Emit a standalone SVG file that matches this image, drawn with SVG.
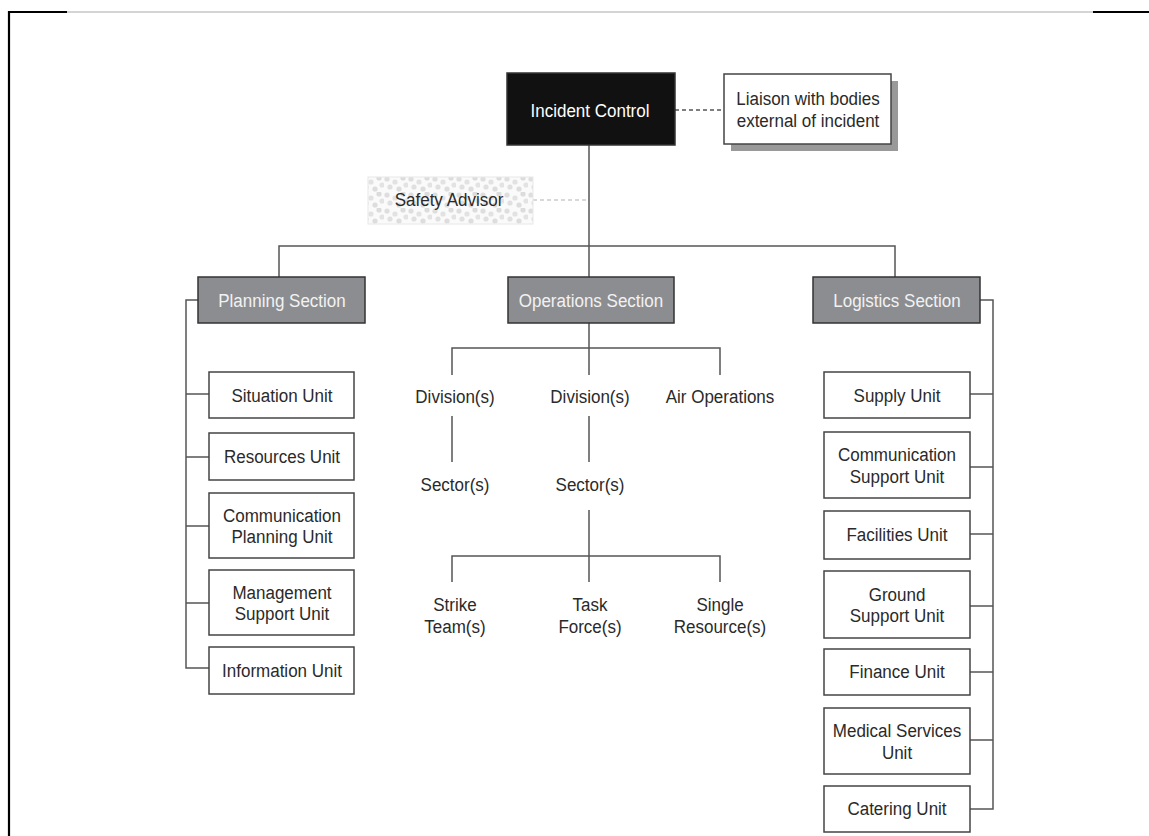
<svg xmlns="http://www.w3.org/2000/svg" width="1149" height="836" viewBox="0 0 1149 836">
<style>
  text { font-family: "Liberation Sans", Arial, sans-serif; font-size: 19px; fill: #2a2a2a; text-anchor: middle; }
  .unit { fill: #fff; stroke: #444; stroke-width: 1.5; }
  .sec { fill: #8c8d90; stroke: #333; stroke-width: 1.5; }
  .sect { fill: #f2f2f2; }
  .conn { fill: none; stroke: #555; stroke-width: 1.5; }
</style>
<defs>
  <pattern id="dots" x="0" y="0" width="24" height="16" patternUnits="userSpaceOnUse">
    <rect width="24" height="16" fill="#fafafa"/>
    <circle cx="3" cy="3" r="2.6" fill="#dedede"/>
    <circle cx="11" cy="6" r="2.6" fill="#e2e2e2"/>
    <circle cx="19" cy="2" r="2.6" fill="#dcdcdc"/>
    <circle cx="6" cy="11" r="2.6" fill="#e0e0e0"/>
    <circle cx="15" cy="13" r="2.6" fill="#dddddd"/>
    <circle cx="22" cy="9" r="2.6" fill="#e3e3e3"/>
  </pattern>
</defs>

<g id="frame">
  <line x1="66" y1="12" x2="1093" y2="12" stroke="#aaa" stroke-width="1"/>
  <polyline points="9,836 9,12 67,12" fill="none" stroke="#000" stroke-width="2.2"/>
  <line x1="1093" y1="12" x2="1149" y2="12" stroke="#000" stroke-width="2.2"/>
</g>

<g id="connectors">
  <line x1="675" y1="110" x2="724" y2="110" stroke="#555" stroke-width="1.3" stroke-dasharray="4,3"/>
  <line x1="533" y1="200" x2="589" y2="200" stroke="#ccc" stroke-width="1.3" stroke-dasharray="4,3"/>
  <line class="conn" x1="589" y1="145" x2="589" y2="277"/>
  <polyline class="conn" points="279,277 279,246 895,246 895,277"/>
  <polyline class="conn" points="198,300 186,300 186,668 209,668"/>
  <line class="conn" x1="186" y1="394" x2="209" y2="394"/>
  <line class="conn" x1="186" y1="457" x2="209" y2="457"/>
  <line class="conn" x1="186" y1="526" x2="209" y2="526"/>
  <line class="conn" x1="186" y1="603" x2="209" y2="603"/>
  <polyline class="conn" points="980,300 993,300 993,809 970,809"/>
  <line class="conn" x1="970" y1="394" x2="993" y2="394"/>
  <line class="conn" x1="970" y1="467" x2="993" y2="467"/>
  <line class="conn" x1="970" y1="534" x2="993" y2="534"/>
  <line class="conn" x1="970" y1="606" x2="993" y2="606"/>
  <line class="conn" x1="970" y1="672" x2="993" y2="672"/>
  <line class="conn" x1="970" y1="740" x2="993" y2="740"/>
  <line class="conn" x1="589" y1="323" x2="589" y2="375"/>
  <polyline class="conn" points="452,375 452,348 720,348 720,375"/>
  <line class="conn" x1="452" y1="416" x2="452" y2="462"/>
  <line class="conn" x1="589" y1="416" x2="589" y2="462"/>
  <line class="conn" x1="589" y1="510" x2="589" y2="582"/>
  <polyline class="conn" points="452,582 452,556 720,556 720,582"/>
</g>

<g id="incident-control">
  <rect x="507" y="73" width="168" height="72" fill="#111" stroke="#333" stroke-width="1.5"/>
  <text transform="translate(590,117) scale(0.895,1)" style="fill:#fff">Incident Control</text>
</g>

<g id="liaison">
  <rect x="731" y="81" width="167" height="70" fill="#999"/>
  <rect class="unit" x="724" y="74" width="167" height="70"/>
  <text transform="translate(808,105) scale(0.895,1)">Liaison with bodies</text>
  <text transform="translate(808,126.5) scale(0.895,1)">external of incident</text>
</g>

<g id="safety-advisor">
  <rect x="368" y="177" width="165" height="47" fill="url(#dots)" stroke="#e8e8e8" stroke-width="1"/>
  <text transform="translate(449,206) scale(0.895,1)">Safety Advisor</text>
</g>

<g id="planning-section">
  <rect class="sec" x="198" y="277" width="167" height="46"/>
  <text class="sect" transform="translate(282,307) scale(0.895,1)">Planning Section</text>
</g>
<g id="operations-section">
  <rect class="sec" x="508" y="277" width="166" height="46"/>
  <text class="sect" transform="translate(591,307) scale(0.895,1)">Operations Section</text>
</g>
<g id="logistics-section">
  <rect class="sec" x="813" y="277" width="167" height="46"/>
  <text class="sect" transform="translate(897,307) scale(0.895,1)">Logistics Section</text>
</g>

<g id="situation-unit">
  <rect class="unit" x="209" y="372" width="145" height="46"/>
  <text transform="translate(282,402) scale(0.895,1)">Situation Unit</text>
</g>
<g id="resources-unit">
  <rect class="unit" x="209" y="433" width="145" height="47"/>
  <text transform="translate(282,463) scale(0.895,1)">Resources Unit</text>
</g>
<g id="communication-planning-unit">
  <rect class="unit" x="209" y="493" width="145" height="65"/>
  <text transform="translate(282,521.5) scale(0.895,1)">Communication</text>
  <text transform="translate(282,543) scale(0.895,1)">Planning Unit</text>
</g>
<g id="management-support-unit">
  <rect class="unit" x="209" y="570" width="145" height="65"/>
  <text transform="translate(282,598.5) scale(0.895,1)">Management</text>
  <text transform="translate(282,620) scale(0.895,1)">Support Unit</text>
</g>
<g id="information-unit">
  <rect class="unit" x="209" y="647" width="145" height="47"/>
  <text transform="translate(282,677) scale(0.895,1)">Information Unit</text>
</g>

<g id="supply-unit">
  <rect class="unit" x="824" y="372" width="146" height="46"/>
  <text transform="translate(897,402) scale(0.895,1)">Supply Unit</text>
</g>
<g id="communication-support-unit">
  <rect class="unit" x="824" y="432" width="146" height="66"/>
  <text transform="translate(897,461) scale(0.895,1)">Communication</text>
  <text transform="translate(897,482.5) scale(0.895,1)">Support Unit</text>
</g>
<g id="facilities-unit">
  <rect class="unit" x="824" y="511" width="146" height="48"/>
  <text transform="translate(897,541) scale(0.895,1)">Facilities Unit</text>
</g>
<g id="ground-support-unit">
  <rect class="unit" x="824" y="571" width="146" height="67"/>
  <text transform="translate(897,600.5) scale(0.895,1)">Ground</text>
  <text transform="translate(897,622) scale(0.895,1)">Support Unit</text>
</g>
<g id="finance-unit">
  <rect class="unit" x="824" y="649" width="146" height="46"/>
  <text transform="translate(897,678) scale(0.895,1)">Finance Unit</text>
</g>
<g id="medical-services-unit">
  <rect class="unit" x="824" y="708" width="146" height="66"/>
  <text transform="translate(897,737) scale(0.895,1)">Medical Services</text>
  <text transform="translate(897,758.5) scale(0.895,1)">Unit</text>
</g>
<g id="catering-unit">
  <rect class="unit" x="824" y="786" width="146" height="46"/>
  <text transform="translate(897,815) scale(0.895,1)">Catering Unit</text>
</g>

<g id="division-1"><text transform="translate(455,403) scale(0.895,1)">Division(s)</text></g>
<g id="division-2"><text transform="translate(590,403) scale(0.895,1)">Division(s)</text></g>
<g id="air-operations"><text transform="translate(720,403) scale(0.895,1)">Air Operations</text></g>
<g id="sector-1"><text transform="translate(455,491) scale(0.895,1)">Sector(s)</text></g>
<g id="sector-2"><text transform="translate(590,491) scale(0.895,1)">Sector(s)</text></g>
<g id="strike-teams">
  <text transform="translate(455,611) scale(0.895,1)">Strike</text>
  <text transform="translate(455,632.5) scale(0.895,1)">Team(s)</text>
</g>
<g id="task-forces">
  <text transform="translate(590,611) scale(0.895,1)">Task</text>
  <text transform="translate(590,632.5) scale(0.895,1)">Force(s)</text>
</g>
<g id="single-resources">
  <text transform="translate(720,611) scale(0.895,1)">Single</text>
  <text transform="translate(720,632.5) scale(0.895,1)">Resource(s)</text>
</g>
</svg>
